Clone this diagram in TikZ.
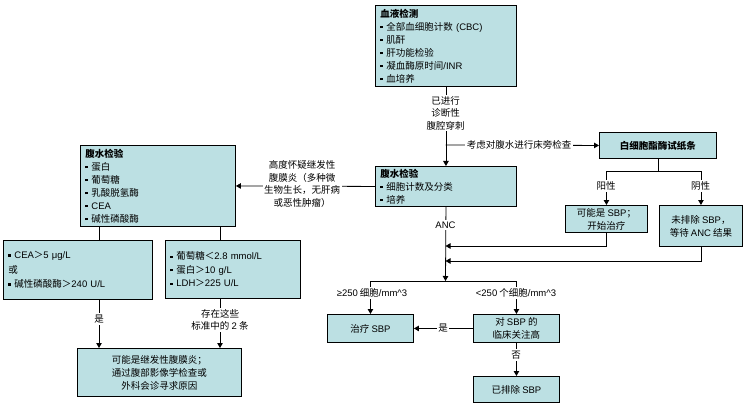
\documentclass[tikz,border=0pt]{standalone}
\usepackage{fontspec}
\setmainfont{Noto Sans CJK SC}
\newfontfamily\latf{Liberation Sans}
\newcommand{\la}[1]{{\latf #1}}
\usetikzlibrary{arrows.meta}
\definecolor{boxc}{RGB}{188,224,227}
\newcommand{\bul}{\makebox[6pt][l]{\raisebox{0.22em}{\rule{2.2pt}{2.2pt}}}}
\begin{document}
\begin{tikzpicture}[x=1pt,y=-1pt,
  font=\fontsize{9.5}{13}\selectfont,
  box/.style={draw, line width=0.9pt, fill=boxc, inner xsep=5pt, inner ysep=0pt, anchor=north west},
  lab/.style={fill=white, inner sep=1.5pt, align=center, font=\fontsize{9.5}{12.5}\selectfont},
  ln/.style={line width=0.8pt},
  arr/.style={ln, -{Triangle[length=5pt,width=5.5pt]}},
]
\useasboundingbox (0,0) rectangle (746,406);
% boxes
\node[box, minimum width=141pt, minimum height=81pt, text width=131pt, align=left] (A) at (375,5)
  {\textbf{血液检测}\\ \bul 全部血细胞计数 \la{(CBC)}\\ \bul 肌酐\\ \bul 肝功能检验\\ \bul 凝血酶原时间\la{/INR}\\ \bul 血培养};
\node[box, minimum width=155pt, minimum height=81pt, text width=145pt, align=left] (B) at (80,145)
  {\textbf{腹水检验}\\ \bul 蛋白\\ \bul 葡萄糖\\ \bul 乳酸脱氢酶\\ \bul \la{CEA}\\ \bul 碱性磷酸酶};
\node[box, minimum width=141pt, minimum height=40pt, text width=131pt, align=left] (C) at (375,166)
  {\textbf{腹水检验}\\ \bul 细胞计数及分类\\ \bul 培养};
\node[box, minimum width=117pt, minimum height=26pt, align=center] (D) at (599,132) {\textbf{白细胞酯酶试纸条}};
\node[box, minimum width=82pt, minimum height=27pt, align=center] (H) at (565,205) {可能是 \la{SBP}；\\开始治疗};
\node[box, minimum width=83pt, minimum height=41pt, align=center] (I) at (659,205) {未排除 \la{SBP}，\\等待 \la{ANC} 结果};
\node[box, minimum width=149pt, minimum height=59pt, text width=139pt, align=left, font=\fontsize{9.5}{14.5}\selectfont] (E) at (3,240)
  {\bul \la{CEA}＞\la{5 μg/L}\\ 或\\ \bul 碱性磷酸酶＞\la{240 U/L}};
\node[box, minimum width=135pt, minimum height=58pt, text width=125pt, align=left, font=\fontsize{9.5}{13.5}\selectfont] (F) at (165,240)
  {\bul 葡萄糖＜\la{2.8 mmol/L}\\ \bul 蛋白＞\la{10 g/L}\\ \bul \la{LDH}＞\la{225 U/L}};
\node[box, minimum width=164pt, minimum height=48pt, align=center] (G) at (77,348)
  {可能是继发性腹膜炎；\\通过腹部影像学检查或\\外科会诊寻求原因};
\node[box, minimum width=86pt, minimum height=28pt, align=center] (J) at (327,314) {治疗 \la{SBP}};
\node[box, minimum width=86pt, minimum height=28pt, align=center] (K) at (473,314) {对 \la{SBP} 的\\临床关注高};
\node[box, minimum width=86pt, minimum height=26pt, align=center] (L) at (473,376) {已排除 \la{SBP}};
% coordinates
\coordinate (bD) at (445.5,145);
\coordinate (m1) at (445.5,246);
\coordinate (m2) at (445.5,261);
\coordinate (fork) at (445.5,281);
\coordinate (b1) at (99,226);
\coordinate (b2) at (220,226);
\coordinate (e1) at (99,299);
\coordinate (f1) at (220,298);
% connectors
\draw[arr] (A.south) -- (C.north);
\draw[arr] (bD) -- (D.west);
\draw[arr] (D.south) -- ++(0,13) -| (H.north);
\draw[arr] (D.south) -- ++(0,13) -| (I.north);
\draw[arr] (H.south) |- (m1);
\draw[arr] (I.south) |- (m2);
\draw[arr] (C.south) -- (fork);
\draw[arr] (fork) -| (J.north);
\draw[arr] (fork) -| (K.north);
\draw[arr] (K.west) -- (J.east);
\draw[arr] (K.south) -- (L.north);
\draw[arr] (C.west) -- (B.east);
\draw[ln] (b1) -- (b1 |- E.north);
\draw[ln] (b2) -- (b2 |- F.north);
\draw[arr] (e1) -- (e1 |- G.north);
\draw[arr] (f1) -- (f1 |- G.north);
% labels
\node[lab] (l1) at (445.5,113) {已进行\\诊断性\\腹腔穿刺};
\node[lab] (l2) at (519,145) {考虑对腹水进行床旁检查};
\node[lab] (l3) at (606,186) {阳性};
\node[lab] (l4) at (700.5,186) {阴性};
\node[lab] (l5) at (445.5,225) {\la{ANC}};
\node[lab] (l6) at (372,293) {\la{≥250} 细胞\la{/mm\textasciicircum 3}};
\node[lab] (l7) at (516,293) {\la{<250} 个细胞\la{/mm\textasciicircum 3}};
\node[lab] (l8) at (443,328) {是};
\node[lab] (l9) at (516,355) {否};
\node[lab] (l10) at (302,184) {高度怀疑继发性\\腹膜炎（多种微\\生物生长，无肝病\\或恶性肿瘤）};
\node[lab] (l11) at (99,319) {是};
\node[lab] (l12) at (220,320) {存在这些\\标准中的 \la{2} 条};
\end{tikzpicture}
\end{document}
